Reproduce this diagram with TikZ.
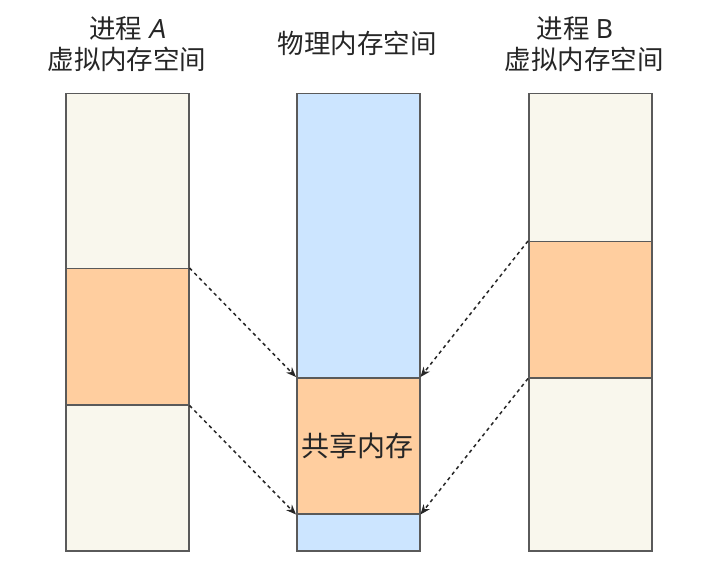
\documentclass[tikz,border=0pt]{standalone}
\usepackage{fontspec}
\setmainfont{Noto Sans CJK SC}
\newfontfamily\slantlatin{Noto Sans}[FakeSlant=0.2]
\usetikzlibrary{arrows.meta}
\definecolor{beige}{HTML}{F9F7ED}
\definecolor{orng}{HTML}{FFCE9F}
\definecolor{blu}{HTML}{CCE5FF}
\definecolor{edge}{HTML}{5A5A5A}
\tikzset{
  blk/.style={draw=edge, line width=1.5pt, inner sep=0pt, minimum width=123pt, anchor=north west},
  ttl/.style={font=\fontsize{26.5}{30}\selectfont, inner sep=0pt, text=black!85},
  link/.style={draw=black!85, line width=1.5pt, dash pattern=on 3.5pt off 3.5pt, -{Stealth[length=10pt,width=8pt]}}
}
\begin{document}
\begin{tikzpicture}[x=1pt,y=-1pt]
\useasboundingbox (0,0) rectangle (702,572);
% left column
\node[blk, fill=beige, minimum height=175pt] (la) at (65,93) {};
\node[blk, fill=orng, minimum height=136pt] (lb) at (65,268) {};
\node[blk, fill=beige, minimum height=146pt] (lc) at (65,404) {};
% middle column
\node[blk, fill=blu, minimum height=284pt] (ma) at (296,93) {};
\node[blk, fill=orng, minimum height=136pt] (mb) at (296,377) {};
\node[blk, fill=blu, minimum height=37pt] (mc) at (296,513) {};
% right column
\node[blk, fill=beige, minimum height=148pt] (ra) at (528,93) {};
\node[blk, fill=orng, minimum height=136pt] (rb) at (528,241) {};
\node[blk, fill=beige, minimum height=173pt] (rc) at (528,377) {};
% titles
\node[ttl] (tl1) at (127,28.5) {进程 {\slantlatin A}};
\node[ttl] (tl2) at (127,59) {虚拟内存空间};
\node[ttl] (tm) at (357,43) {物理内存空间};
\node[ttl] (tr1) at (575,28.5) {进程 {\fontspec{Noto Sans}B}};
\node[ttl] (tr2) at (584,59) {虚拟内存空间};
\node[ttl, font=\fontsize{28}{30}\selectfont] (sh) at (357,446) {共享内存};
% links
\draw[link] (lb.north east) -- (mb.north west);
\draw[link] (lb.south east) -- (mb.south west);
\draw[link] (rb.north west) -- (mb.north east);
\draw[link] (rb.south west) -- (mb.south east);
\end{tikzpicture}
\end{document}
